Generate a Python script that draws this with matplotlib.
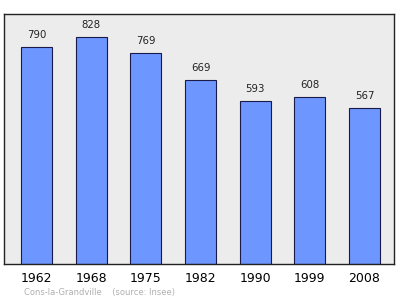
import numpy as np
import matplotlib.pyplot as plt

years = ["1962", "1968", "1975", "1982", "1990", "1999", "2008"]
population = [790, 828, 769, 669, 593, 608, 567]

fig = plt.figure(figsize=(4.0, 2.99), dpi=100)
ax = fig.add_axes([4.3 / 400, 1 - 263.5 / 299, 389.7 / 400, 250 / 299])
ax.set_facecolor("#ececec")

x = np.arange(len(years))
ax.bar(x, population, width=0.57, color="#6e96ff", edgecolor="#1a1a4a", linewidth=0.8, zorder=2)
for xi, v in zip(x, population):
    ax.text(xi, v + 25, str(v), ha="center", va="bottom", fontsize=7.3, color="#222222")

ax.set_xlim(-0.59, 6.54)
ax.set_ylim(0, 912)
ax.set_yticks([])
ax.set_xticks(x)
ax.set_xticklabels(years, fontsize=9)
ax.tick_params(axis="x", length=0, pad=6)
for s in ax.spines.values():
    s.set_linewidth(1.0)
    s.set_color("#222222")

fig.text(24 / 400, 1 - 292 / 299, "Cons-la-Grandville    (source: Insee)", fontsize=6,
         color="#b0b0b0", va="center")

fig.savefig("out.png", dpi=100)
